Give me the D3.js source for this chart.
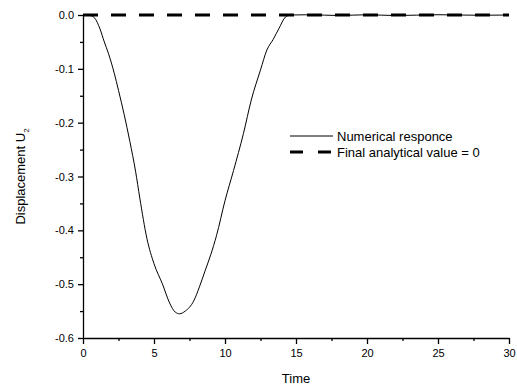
<!DOCTYPE html>
<html lang="en">
  <head>
    <title>Displacement U2</title>
    <script type="text/javascript" src="https://d3js.org/d3.v7.min.js"></script>
    <style>
      body { margin: 0; background: #fff; }
      text { font-family: "Liberation Sans", Arial, sans-serif; fill: #000; }
    </style>
  </head>

  <body>
    <div id="my_dataviz"></div>

    <script>
      // numerical response
      const times = [0, 0.5, 0.8, 1.2, 1.5, 1.8, 2.2, 2.5, 2.9, 3.3, 3.7, 4.0, 4.5, 5.0, 5.6, 6.1, 6.5, 6.8,
                     7.2, 7.8, 8.2, 8.6, 9.0, 9.4, 10.0, 10.6, 11.3, 11.85, 12.5, 12.95, 13.4, 13.8, 14.25, 14.6,
                     16, 18, 20, 22, 25, 28, 30];
      const numerical = [0, -0.001, -0.005, -0.026, -0.05, -0.072, -0.108, -0.14, -0.185, -0.235, -0.29, -0.34,
                         -0.415, -0.462, -0.5, -0.535, -0.552, -0.555, -0.55, -0.531, -0.505, -0.475, -0.445,
                         -0.41, -0.345, -0.289, -0.22, -0.158, -0.102, -0.065, -0.045, -0.025, -0.004, 0,
                         0.0005, -0.001, 0.0005, -0.001, 0.0005, -0.0005, 0];
      // analytical final value
      const analyticalTimes = [0, 30];
      const analytical = [0, 0];

      const xTicks = [0, 5, 10, 15, 20, 25, 30];
      const xMinor = [2.5, 7.5, 12.5, 17.5, 22.5, 27.5];
      const yTicks = [0, -0.1, -0.2, -0.3, -0.4, -0.5, -0.6];
      const yMinor = [-0.05, -0.15, -0.25, -0.35, -0.45, -0.55];
      const legendLabels = ["Numerical responce", "Final analytical value = 0"];

      // set the dimensions and margins of the graph
      let margin = {top: 15, right: 8, bottom: 54, left: 83},
      width = 517 - margin.left - margin.right,
      height = 392 - margin.top - margin.bottom;

      let svg = d3.select("#my_dataviz")
        .append("svg")
          .attr("width", width + margin.left + margin.right)
          .attr("height", height + margin.top + margin.bottom)
        .append("g")
          .attr("transform", "translate(" + margin.left + "," + margin.top + ")");

      let x = d3.scaleLinear().domain([0, 30]).range([0, width]);
      let y = d3.scaleLinear().domain([-0.6, 0]).range([height, 0]);

      // minor ticks first, then the main axes over them
      svg.append("g")
        .attr("class", "minor")
        .attr("transform", "translate(0," + height + ")")
        .call(d3.axisBottom(x).tickValues(xMinor).tickSize(3).tickFormat(""));
      svg.append("g")
        .attr("class", "minor")
        .call(d3.axisLeft(y).tickValues(yMinor).tickSize(3).tickFormat(""));

      svg.append("g")
        .attr("class", "axis")
        .attr("transform", "translate(0," + height + ")")
        .call(d3.axisBottom(x).tickValues(xTicks).tickSize(6).tickPadding(5).tickSizeOuter(0)
          .tickFormat(d3.format("d")));
      svg.append("g")
        .attr("class", "axis")
        .call(d3.axisLeft(y).tickValues(yTicks).tickSize(5).tickPadding(4).tickSizeOuter(0)
          .tickFormat(function(d) { return d.toFixed(1); }));

      svg.selectAll(".axis path, .axis line, .minor path, .minor line")
        .attr("stroke", "#000").attr("stroke-width", 1.3);
      svg.selectAll(".minor path").remove();
      svg.selectAll(".axis text")
        .style("font-family", "'Liberation Sans', Arial, sans-serif")
        .style("font-size", "11px");

      // analytical value, thick dashes
      svg.append("path")
        .datum(d3.zip(analyticalTimes, analytical))
        .attr("fill", "none")
        .attr("stroke", "#000")
        .attr("stroke-width", 2.8)
        .attr("stroke-dasharray", "15,13")
        .attr("d", d3.line()
          .x(function(d) { return x(d[0]); })
          .y(function(d) { return y(d[1]); }));

      // numerical response, thin solid
      svg.append("path")
        .datum(d3.zip(times, numerical))
        .attr("fill", "none")
        .attr("stroke", "#000")
        .attr("stroke-width", 1)
        .attr("d", d3.line()
          .curve(d3.curveMonotoneX)
          .x(function(d) { return x(d[0]); })
          .y(function(d) { return y(d[1]); }));

      // axis titles
      svg.append("text")
        .attr("x", width / 2)
        .attr("y", height + 45)
        .attr("text-anchor", "middle")
        .style("font-size", "13px")
        .text("Time");

      let ylab = svg.append("text")
        .attr("transform", "translate(-58," + (height / 2) + ") rotate(-90)")
        .attr("text-anchor", "middle")
        .style("font-size", "13px");
      ylab.append("tspan").text("Displacement U");
      ylab.append("tspan").attr("dy", 4).style("font-size", "8px").text("2");

      // legend
      let legend = svg.append("g").attr("transform", "translate(207,121)");
      legend.append("line")
        .attr("x1", 0).attr("x2", 43).attr("y1", 0).attr("y2", 0)
        .attr("stroke", "#000").attr("stroke-width", 1);
      legend.append("line")
        .attr("x1", 0).attr("x2", 43).attr("y1", 16).attr("y2", 16)
        .attr("stroke", "#000").attr("stroke-width", 2.8)
        .attr("stroke-dasharray", "13,15");
      legend.selectAll("text.lab")
        .data(legendLabels)
        .enter().append("text")
          .attr("class", "lab")
          .attr("x", 47)
          .attr("y", function(d, i) { return i * 16 + 4.5; })
          .style("font-size", "13px")
          .text(function(d) { return d; });
    </script>
  </body>
</html>
